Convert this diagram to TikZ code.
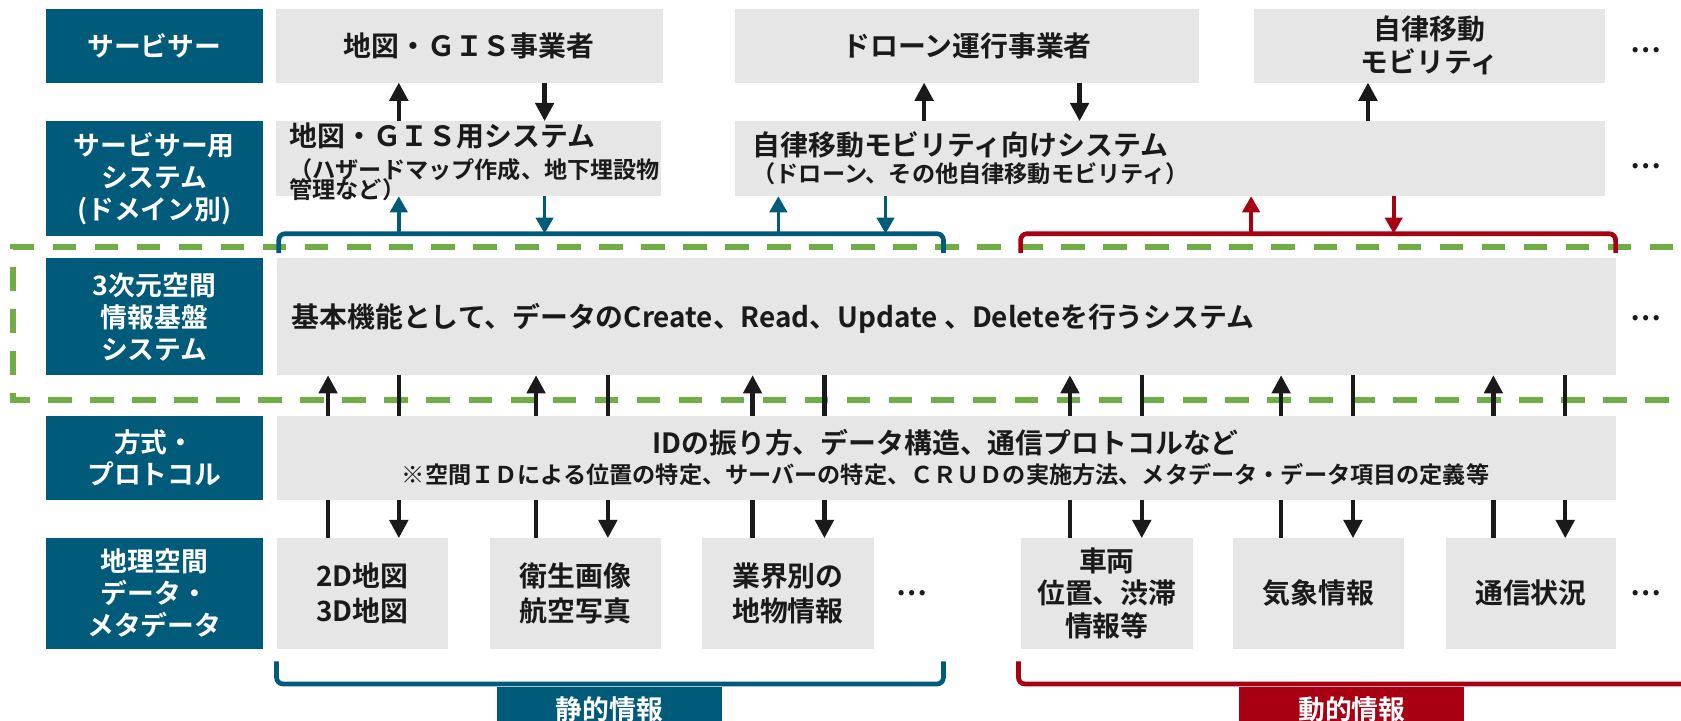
\documentclass[tikz,border=0pt]{standalone}
\usepackage{fontspec}
\setmainfont{Noto Sans CJK JP}[BoldFont={Noto Sans CJK JP Bold}]
\usetikzlibrary{arrows.meta}
\definecolor{cTeal}{RGB}{0,90,122}
\definecolor{cRed}{RGB}{168,0,18}
\definecolor{cGray}{RGB}{230,230,230}
\definecolor{cGreen}{RGB}{112,173,71}
\definecolor{cInk}{RGB}{26,26,26}
\tikzset{
  lab/.style={fill=cTeal, text=white, font=\bfseries\fontsize{12.5}{15}\selectfont, align=center,
    inner sep=0pt, outer sep=0pt, anchor=north west, minimum width=101pt},
  gbox/.style={fill=cGray, text=cInk, font=\bfseries\fontsize{13}{16}\selectfont, align=center,
    inner sep=0pt, outer sep=0pt, anchor=north west},
  txt/.style={text=cInk, font=\bfseries\fontsize{13}{16}\selectfont, inner sep=0pt, outer sep=0pt},
  subtxt/.style={text=cInk, font=\bfseries\fontsize{10.8}{13}\selectfont, inner sep=0pt, outer sep=0pt},
  dotsn/.style={text=cInk, font=\bfseries\fontsize{13}{16}\selectfont, inner sep=0pt},
  arr/.style={color=cInk, line width=2pt, -{Triangle[length=8.5pt,width=8.5pt]}},
  ln/.style={color=cInk, line width=2pt},
  barr/.style={color=cTeal, line width=1.7pt, -{Triangle[length=7.5pt,width=8pt]}},
  rarr/.style={color=cRed, line width=1.7pt, -{Triangle[length=7.5pt,width=8pt]}},
  brk/.style={line width=2.2pt, rounded corners=3pt},
  grn/.style={draw=cGreen, line width=2.8pt, dash pattern=on 11pt off 8.6pt}
}
\begin{document}
\begin{tikzpicture}[x=0.5pt,y=-0.5pt]
\clip (0,0) rectangle (1568,672);
\fill[white] (0,0) rectangle (1568,672);

% green dashed frame
\draw[grn] (1600,230) -- (12,230) -- (12,373) -- (1600,373);

% left labels
\node[lab, minimum height=34.5pt] (l1) at (43,8) {サービサー};
\node[lab, minimum height=53.5pt] (l2) at (43,113) {サービサー用\\システム\\(ドメイン別)};
\node[lab, minimum height=54.5pt] (l3) at (43,241) {3次元空間\\情報基盤\\システム};
\node[lab, minimum height=39pt] (l4) at (43,388) {方式・\\プロトコル};
\node[lab, minimum height=51.5pt] (l5) at (43,502) {地理空間\\データ・\\メタデータ};

% row 1
\node[gbox, minimum width=180.5pt, minimum height=34.5pt] (gis1) at (257,8) {地図・ＧＩＳ事業者};
\node[gbox, minimum width=216pt, minimum height=34.5pt] (drn1) at (686,8) {ドローン運行事業者};
\node[gbox, minimum width=163.5pt, minimum height=34.5pt, font=\bfseries\fontsize{13}{15.5}\selectfont] (aut1) at (1170,8) {自律移動\\モビリティ};
\node[dotsn] (e1) at (1535,47) {…};

% row 2
\node[gbox, minimum width=180pt, minimum height=35pt] (gis2) at (257,113) {};
\node[txt, anchor=west] (gis2a) at (270,127) {地図・ＧＩＳ用システム};
\node[subtxt, anchor=west] (gis2b) at (270,158) {（ハザードマップ作成、地下埋設物};
\node[subtxt, anchor=west] (gis2c) at (270,177) {管理など）};
\node[gbox, minimum width=405.5pt, minimum height=35pt] (aut2) at (686,113) {};
\node[txt, anchor=west] (aut2a) at (702,135) {自律移動モビリティ向けシステム};
\node[subtxt, anchor=west] (aut2b) at (702,162) {（ドローン、その他自律移動モビリティ）};
\node[dotsn] (e2) at (1535,155) {…};

% row 3
\node[gbox, minimum width=624.5pt, minimum height=54.5pt] (core) at (258,241) {};
\node[txt, anchor=west] (corea) at (272,297) {基本機能として、データのCreate、Read、Update 、Deleteを行うシステム};
\node[dotsn] (e3) at (1535,297) {…};

% row 4
\node[gbox, minimum width=624.5pt, minimum height=39pt] (proto) at (258,388) {};
\node[txt] (protoa) at (882,413) {IDの振り方、データ構造、通信プロトコルなど};
\node[subtxt] (protob) at (882,443) {※空間ＩＤによる位置の特定、サーバーの特定、ＣＲＵＤの実施方法、メタデータ・データ項目の定義等};

% row 5
\node[gbox, minimum width=80pt, minimum height=51.5pt, font=\bfseries\fontsize{13}{16.5}\selectfont] (d1) at (258,502) {2D地図\\3D地図};
\node[gbox, minimum width=80pt, minimum height=51.5pt, font=\bfseries\fontsize{13}{16.5}\selectfont] (d2) at (457,502) {衛生画像\\航空写真};
\node[gbox, minimum width=80pt, minimum height=51.5pt, font=\bfseries\fontsize{13}{16.5}\selectfont] (d3) at (655,502) {業界別の\\地物情報};
\node[dotsn] (e4) at (851,553) {…};
\node[gbox, minimum width=80.5pt, minimum height=51.5pt, font=\bfseries\fontsize{13}{15}\selectfont] (d4) at (952,502) {車両\\位置、渋滞\\情報等};
\node[gbox, minimum width=80pt, minimum height=51.5pt] (d5) at (1150,502) {気象情報};
\node[gbox, minimum width=79pt, minimum height=51.5pt] (d6) at (1349,502) {通信状況};
\node[dotsn] (e5) at (1535,553) {…};

% brackets
\coordinate (bT) at (0,218);
\coordinate (rT) at (0,218);
\draw[brk, cTeal] (260,236) -- (260,218) -- (880,218) -- (880,236);
\draw[brk, cRed] (952,236) -- (952,218) -- (1507,218) -- (1507,236);
\draw[brk, cTeal] (258,617) -- (258,638) -- (880,638) -- (880,617);
\draw[brk, cRed] (950,617) -- (950,638) -- (1600,638);

% tabs
\node[lab, minimum width=104.5pt, minimum height=20.5pt] (stat) at (464,641) {静的情報};
\node[lab, fill=cRed, minimum width=105pt, minimum height=20.5pt] (dyn) at (1156,641) {動的情報};

% row1-row2 arrows
\draw[arr] (gis2.north -| 372,0) -- (gis1.south -| 372,0);
\draw[arr] (gis1.south -| 508,0) -- (gis2.north -| 508,0);
\draw[arr] (aut2.north -| 862,0) -- (drn1.south -| 862,0);
\draw[arr] (drn1.south -| 1007,0) -- (aut2.north -| 1007,0);
\draw[arr] (aut2.north -| 1276,0) -- (aut1.south -| 1276,0);

% bracket arrows
\draw[barr] (bT -| 372,0) -- (gis2.south -| 372,0);
\draw[barr] (gis2.south -| 508,0) -- (bT -| 508,0);
\draw[barr] (bT -| 726,0) -- (aut2.south -| 726,0);
\draw[barr] (aut2.south -| 826,0) -- (bT -| 826,0);
\draw[rarr] (rT -| 1167,0) -- (aut2.south -| 1167,0);
\draw[rarr] (aut2.south -| 1300,0) -- (rT -| 1300,0);

% row3-row4 and row4-row5
\foreach \u/\d/\b in {306/372/d1, 500/567/d2, 702/769/d3, 998/1065/d4, 1195/1262/d5, 1393/1460/d6}{
  \draw[arr] (proto.north -| \u,0) -- (core.south -| \u,0);
  \draw[ln] (core.south -| \d,0) -- (proto.north -| \d,0);
  \draw[ln] (\b.north -| \u,0) -- (proto.south -| \u,0);
  \draw[arr] (proto.south -| \d,0) -- (\b.north -| \d,0);
}
\end{tikzpicture}
\end{document}
